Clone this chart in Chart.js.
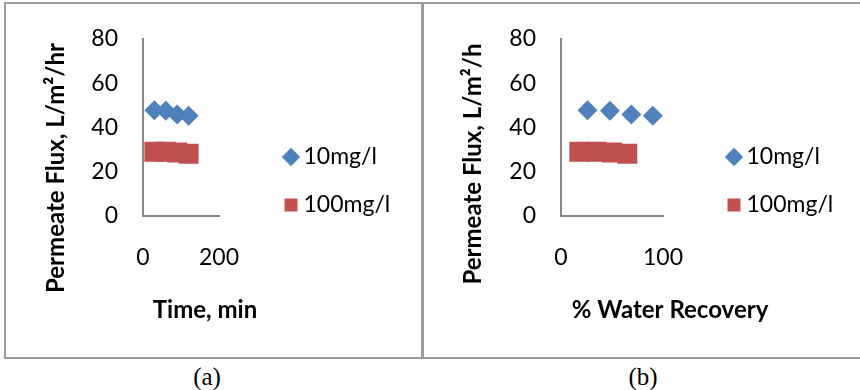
<!DOCTYPE html>
<html>
<head>
<meta charset="utf-8">
<script src="https://cdn.jsdelivr.net/npm/chart.js@4.4.1/dist/chart.umd.min.js"></script>
<style>
  html, body { margin: 0; padding: 0; background: #fff; overflow: hidden; }
  #page { position: relative; width: 860px; height: 390px; overflow: hidden; }
  .panel { position: absolute; top: 2px; height: 357px; border: 2px solid #9a9a9a; box-sizing: border-box; }
  canvas { position: absolute; top: 0; }
  .cap { position: absolute; top: 363px; width: 60px; margin-left: -30px; text-align: center;
         font: 25px/28px "Liberation Serif", serif; color: #000; }
</style>
</head>
<body>
<div id="page">
  <div class="panel" style="left:4px;width:419px"></div>
  <div class="panel" style="left:422px;width:460px"></div>
  <canvas id="chartA" width="410" height="336" style="left:0px"></canvas>
  <canvas id="chartB" width="428" height="328" style="left:456px"></canvas>
  <div class="cap" style="left:207px">(a)</div>
  <div class="cap" style="left:643px">(b)</div>
</div>
<script>
// values
var seriesNames = ['10mg/l', '100mg/l'];
var timeMin = [30, 60, 90, 120];
var recovery10 = [26, 48, 69, 90];
var recovery100 = [18, 35, 50, 65];
var flux10 = [47.7, 47.5, 45.8, 45.3];
var flux100 = [29.0, 29.0, 28.7, 28.1];
var fluxTicks = [0, 80, 20];      // min, max, step
var timeTicks = [0, 200];
var recoveryTicks = [0, 100];

Chart.defaults.font.family = 'Lato';
Chart.defaults.color = '#000';

var tickFont = { family: 'Lato', size: 23 };
var titleFont = { family: 'Lato', size: 24, weight: 'bold' };
var lineH = 24 * 1.2;

// empty axis used only to hold space in the layout
function spacer(pos, weight, fit)
{
    return {
        type: 'linear', position: pos, weight: weight,
        grid: { display: false, drawTicks: false },
        border: { display: false },
        ticks: { display: false },
        afterFit: fit
    };
}

// box: canvas left/width/height, plot area and title/legend anchors, all in page pixels
function drawPanel(id, box, xTitle, yTitle, xTicks, x10, x100)
{
    var titlePad = box.yTitleX - box.left - lineH / 2;
    var subPad = box.height - lineH / 2 - box.xTitleY;
    var yWidth = box.plot[0] - box.left - (lineH + titlePad);
    var xHeight = box.height - (lineH + subPad) - box.plot[3];
    var legendLeft = box.legendX - 25 - 1;
    var legendTitlePad = 2 * (box.legendY - box.height / 2) - 12;

    var ctx = document.getElementById(id).getContext('2d');
    new Chart(ctx, {
        type: 'scatter',
        data: {
            datasets: [{
                label: seriesNames[0],
                data: x10.map(function (x, i) { return { x: x, y: flux10[i] }; }),
                pointStyle: 'rectRot',
                pointRadius: 10,
                pointHoverRadius: 10,
                backgroundColor: '#4f81bd',
                borderColor: '#4f81bd',
                borderWidth: 0
            }, {
                label: seriesNames[1],
                data: x100.map(function (x, i) { return { x: x, y: flux100[i] }; }),
                pointStyle: 'rect',
                pointRadius: 14.14,
                pointHoverRadius: 14.14,
                backgroundColor: '#c0504d',
                borderColor: '#c0504d',
                borderWidth: 0
            }]
        },
        options: {
            responsive: false,
            animation: false,
            devicePixelRatio: 1,
            events: [],
            scales: {
                x: {
                    type: 'linear', position: 'bottom',
                    min: xTicks[0], max: xTicks[1],
                    ticks: { stepSize: xTicks[1] - xTicks[0], padding: 28, font: tickFont, color: '#000' },
                    grid: { display: false, drawTicks: false },
                    border: { color: '#878787', width: 2 },
                    afterFit: function (s) { s.height = xHeight; }
                },
                y: {
                    type: 'linear', position: 'left',
                    min: fluxTicks[0], max: fluxTicks[1],
                    ticks: { stepSize: fluxTicks[2], padding: 25, font: tickFont, color: '#000' },
                    grid: { display: false, drawTicks: false },
                    border: { color: '#878787', width: 2 },
                    afterFit: function (s) { s.width = yWidth; }
                },
                topGap: spacer('top', 0, function (s) { s.height = box.plot[1]; }),
                legendGap: spacer('right', 0, function (s) { s.width = legendLeft - box.plot[2]; }),
                edgeGap: spacer('right', 2000, function (s) {
                    s.width = Math.max(0, box.width - (legendLeft - box.left) - s.chart.legend.width);
                })
            },
            plugins: {
                tooltip: { enabled: false },
                title: {
                    display: true, text: yTitle, position: 'left',
                    color: '#000', font: titleFont,
                    padding: { top: titlePad, bottom: 0 }
                },
                subtitle: {
                    display: true, text: xTitle, position: 'bottom',
                    color: '#000', font: titleFont,
                    padding: { top: 0, bottom: subPad }
                },
                legend: {
                    position: 'right',
                    align: 'center',
                    maxWidth: 300,
                    title: { display: true, text: '', font: { size: 10 }, padding: { top: legendTitlePad, bottom: 0 } },
                    labels: {
                        usePointStyle: true,
                        boxWidth: 2,
                        boxHeight: 13,
                        padding: 25,
                        color: '#000',
                        font: tickFont
                    }
                }
            }
        }
    });
}

drawPanel('chartA',
    { left: 0, width: 410, height: 336, plot: [143, 32, 219, 216], yTitleX: 56, xTitleY: 310, legendX: 291, legendY: 181 },
    'Time, min', 'Permeate Flux, L/m\u00b2/hr', timeTicks, timeMin, timeMin);

drawPanel('chartB',
    { left: 456, width: 428, height: 328, plot: [561, 32, 663, 216], yTitleX: 473, xTitleY: 310, legendX: 734, legendY: 181 },
    '% Water Recovery', 'Permeate Flux, L/m\u00b2/h', recoveryTicks, recovery10, recovery100);
</script>
</body>
</html>
